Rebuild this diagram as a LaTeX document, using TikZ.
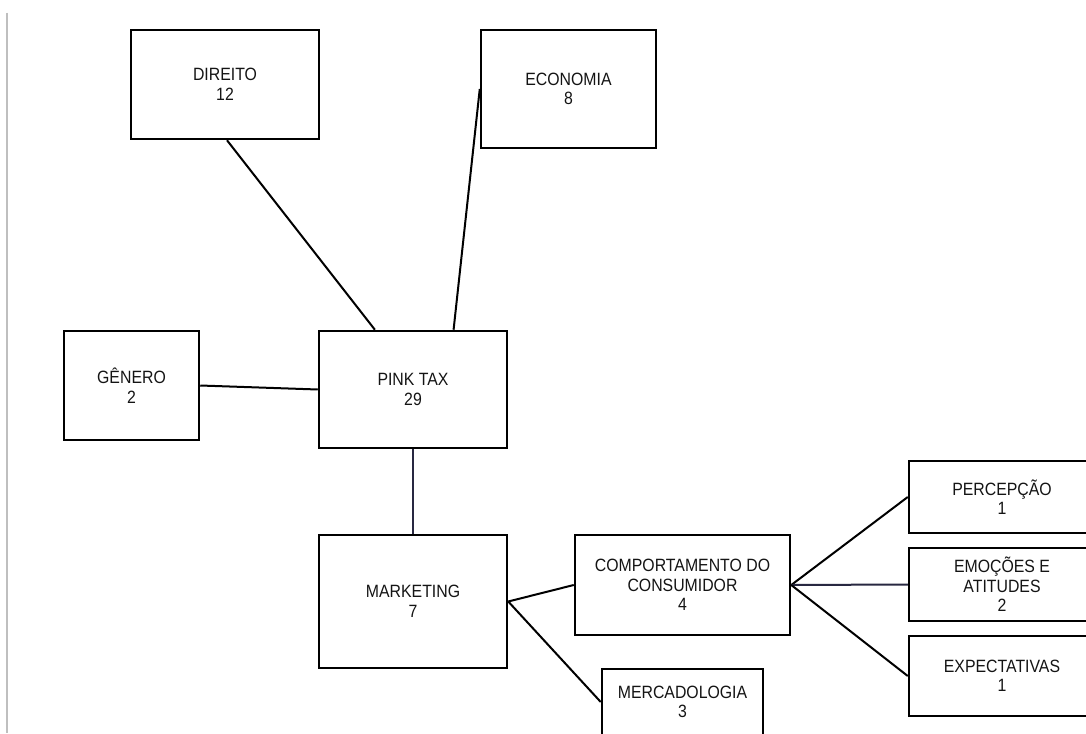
\documentclass[tikz,border=0pt]{standalone}
\usepackage{fontspec}
\setmainfont[FakeStretch=0.89]{Liberation Sans}
\usetikzlibrary{calc}
\begin{document}
\begin{tikzpicture}[x=1pt,y=-1pt,
  box/.style={draw=black,line width=2.5pt,fill=white,align=center,inner sep=0pt,
    font=\fontsize{17.8}{19.5}\selectfont,text=black!92},
  link/.style={line width=2pt,black},
  darklink/.style={line width=2pt,color={rgb,255:red,40;green,40;blue,65}}]
\useasboundingbox (0,0) rectangle (1086,733);
\fill[white] (0,0) rectangle (1086,733);
\draw[line width=1.3pt,gray!50] (7,13) -- (7,733);

\node[box,minimum width=188pt,minimum height=109pt] (direito) at (225,84.5) {DIREITO\\12};
\node[box,minimum width=175pt,minimum height=118pt] (economia) at (568.5,89) {ECONOMIA\\8};
\node[box,minimum width=135pt,minimum height=109pt] (genero) at (131.5,385.5) {GÊNERO\\2};
\node[box,minimum width=188pt,minimum height=117pt] (pink) at (413,389.5) {PINK TAX\\29};
\node[box,minimum width=188pt,minimum height=133pt] (marketing) at (413,601.5) {MARKETING\\7};
\node[box,minimum width=215pt,minimum height=100pt] (comp) at (682.5,585) {COMPORTAMENTO DO\\CONSUMIDOR\\4};
\node[box,minimum width=161pt,minimum height=66pt] (merc) at (682.5,702) {MERCADOLOGIA\\3};
\node[box,minimum width=186pt,minimum height=72pt] (perc) at (1002,497) {PERCEPÇÃO\\1};
\node[box,minimum width=186pt,minimum height=73pt] (emo) at (1002,584.5) {EMOÇÕES E\\ATITUDES\\2};
\node[box,minimum width=186pt,minimum height=80pt] (expe) at (1002,676) {EXPECTATIVAS\\1};

\draw[link] ($(direito.south)+(2,0)$) -- ($(pink.north west)!0.3!(pink.north east)$);
\draw[link] (economia.west) -- ($(pink.north west)!0.713!(pink.north east)$);
\draw[link] (genero.east) -- (pink.west);
\draw[darklink] (pink.south) -- (marketing.north);
\draw[link] (marketing.east) -- (comp.west);
\draw[link] (marketing.east) -- (merc.west);
\draw[link] (comp.east) -- (perc.west);
\draw[darklink] (comp.east) -- (emo.west);
\draw[link] (comp.east) -- (expe.west);
\end{tikzpicture}
\end{document}
